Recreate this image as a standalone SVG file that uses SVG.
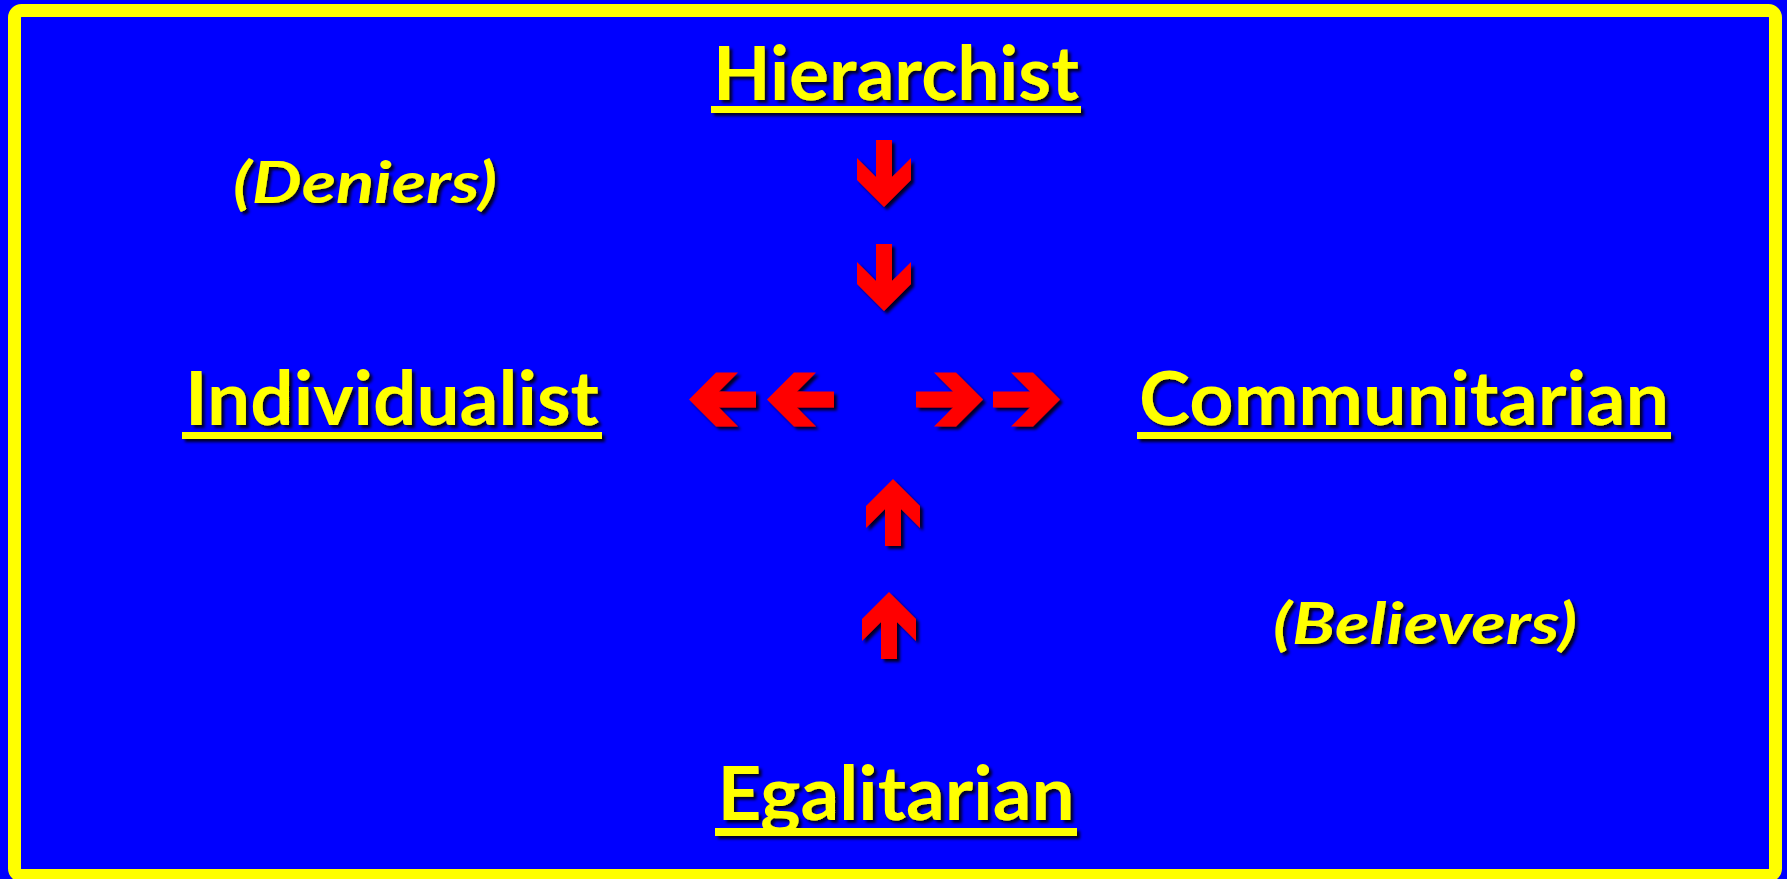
<svg xmlns="http://www.w3.org/2000/svg" xmlns:xlink="http://www.w3.org/1999/xlink" width="1787" height="879" viewBox="0 0 1787 879">
  <style>
    .lbl { font-family: Lato, "Open Sans", "Liberation Sans", sans-serif; font-weight: bold; fill: #FFFF00; text-anchor: middle; }
    .main { font-size: 74px; }
    .sub { font-size: 58px; font-style: italic; }
    .ul { fill: #FFFF00; }
    .arr { fill: #FF0000; }
  </style>
  <defs>
    <filter id="shadow" x="-10%" y="-20%" width="120%" height="150%">
      <feDropShadow dx="3" dy="3" stdDeviation="1.6" flood-color="#000000" flood-opacity="0.85"/>
    </filter>
    <path id="arrowDown" d="M-8,-67 L8,-67 L8,-30 L27,-49 L27,-27 L0,0 L-27,-27 L-27,-49 L-8,-30 Z"/>
  </defs>
  <rect x="0" y="0" width="1787" height="879" fill="#0000FF"/>
  <rect x="14.5" y="10.5" width="1761" height="865" rx="7" fill="none" stroke="#FFFF00" stroke-width="13"/>

  <g id="hierarchist" filter="url(#shadow)">
    <text class="lbl main" x="896" y="100" textLength="366" lengthAdjust="spacingAndGlyphs">Hierarchist</text>
    <rect class="ul" x="711" y="106" width="370" height="7"/>
  </g>
  <g id="individualist" filter="url(#shadow)">
    <text class="lbl main" x="392" y="425" textLength="414" lengthAdjust="spacingAndGlyphs">Individualist</text>
    <rect class="ul" x="182" y="432" width="420" height="7"/>
  </g>
  <g id="communitarian" filter="url(#shadow)">
    <text class="lbl main" x="1404" y="425" textLength="530" lengthAdjust="spacingAndGlyphs">Communitarian</text>
    <rect class="ul" x="1137" y="432" width="534" height="7"/>
  </g>
  <g id="egalitarian" filter="url(#shadow)">
    <text class="lbl main" x="896" y="820" textLength="357" lengthAdjust="spacingAndGlyphs">Egalitarian</text>
    <rect class="ul" x="715" y="828" width="362" height="8"/>
  </g>
  <g id="deniers" filter="url(#shadow)">
    <text class="lbl sub" x="365" y="203" textLength="264" lengthAdjust="spacingAndGlyphs">(Deniers)</text>
  </g>
  <g id="believers" filter="url(#shadow)">
    <text class="lbl sub" x="1425" y="644" textLength="304" lengthAdjust="spacingAndGlyphs">(Believers)</text>
  </g>

  <g id="connectors" class="arr" filter="url(#shadow)">
    <use xlink:href="#arrowDown" transform="translate(884,207)"/>
    <use xlink:href="#arrowDown" transform="translate(884,311)"/>
    <use xlink:href="#arrowDown" transform="translate(893,479) rotate(180)"/>
    <use xlink:href="#arrowDown" transform="translate(889,592) rotate(180)"/>
    <use xlink:href="#arrowDown" transform="translate(689,399.5) rotate(90)"/>
    <use xlink:href="#arrowDown" transform="translate(767,399.5) rotate(90)"/>
    <use xlink:href="#arrowDown" transform="translate(983,399.5) rotate(-90)"/>
    <use xlink:href="#arrowDown" transform="translate(1060,399.5) rotate(-90)"/>
  </g>
</svg>
